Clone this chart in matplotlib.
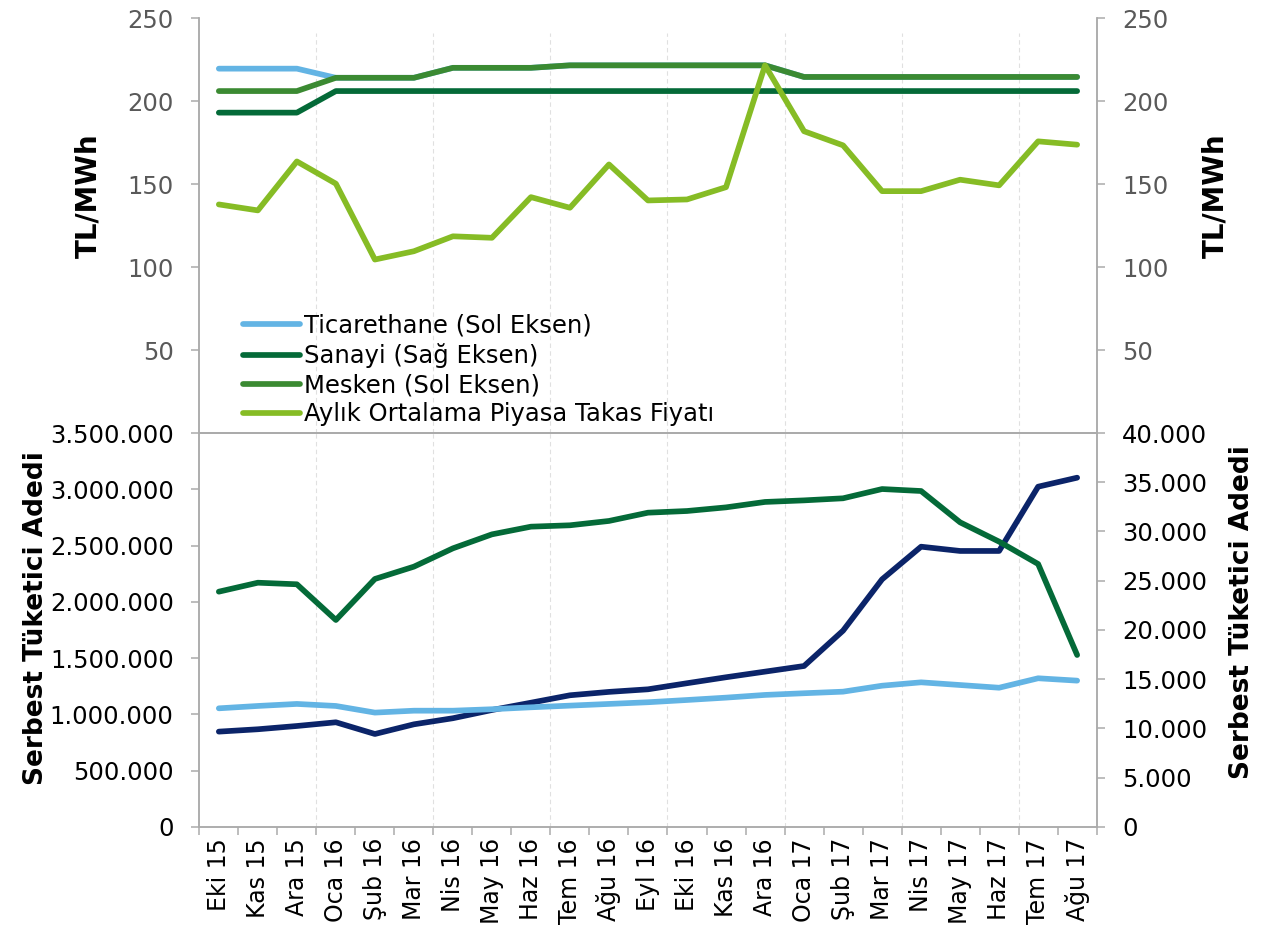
import matplotlib
matplotlib.use('Agg')
import matplotlib.pyplot as plt
from matplotlib.ticker import FuncFormatter, FixedLocator

aylar = ['Eki 15', 'Kas 15', 'Ara 15', 'Oca 16', 'Şub 16', 'Mar 16', 'Nis 16',
         'May 16', 'Haz 16', 'Tem 16', 'Ağu 16', 'Eyl 16', 'Eki 16', 'Kas 16',
         'Ara 16', 'Oca 17', 'Şub 17', 'Mar 17', 'Nis 17', 'May 17', 'Haz 17',
         'Tem 17', 'Ağu 17']

# ust panel - tarifeler TL/MWh
ticarethane = [219.5, 219.5, 219.5, 214, 214, 214, 220, 220, 220, 221.5, 221.5, 221.5,
               221.5, 221.5, 221.5, 214.5, 214.5, 214.5, 214.5, 214.5, 214.5, 214.5, 214.5]
sanayi = [193, 193, 193, 206, 206, 206, 206, 206, 206, 206, 206, 206,
          206, 206, 206, 206, 206, 206, 206, 206, 206, 206, 206]
mesken = [206, 206, 206, 214, 214, 214, 220, 220, 220, 221.5, 221.5, 221.5,
          221.5, 221.5, 221.5, 214.5, 214.5, 214.5, 214.5, 214.5, 214.5, 214.5, 214.5]
ptf = [137.7, 134.1, 163.6, 150.2, 104.5, 109.5, 118.5, 117.6, 142.1, 135.7, 161.8, 140.1,
       140.7, 148.1, 221.5, 181.8, 173.3, 145.7, 145.7, 152.6, 149.2, 175.7, 173.7]

# alt panel - serbest tuketici adedi
tic_adet = [1054000, 1075000, 1093000, 1075000, 1016000, 1033000, 1033000, 1046000,
            1063000, 1078000, 1093000, 1108000, 1128000, 1149000, 1173000, 1188000,
            1202000, 1255000, 1285000, 1261000, 1237000, 1321000, 1300000]
mesken_adet = [847000, 868000, 897000, 930000, 826000, 912000, 966000, 1039000,
               1104000, 1170000, 1200000, 1223000, 1277000, 1330000, 1380000, 1430000,
               1744000, 2200000, 2490000, 2452000, 2452000, 3023000, 3103000]
sanayi_adet = [23890, 24800, 24640, 21015, 25180, 26430, 28290, 29710, 30490, 30630,
               31070, 31910, 32080, 32450, 33000, 33160, 33370, 34310, 34110, 30930,
               28970, 26700, 17460]

c_tic = '#63b4e4'
c_san = '#046a38'
c_mes = '#3b8a32'
c_ptf = '#86bc25'
c_nav = '#0b2469'
c_spine = '#ababab'

plt.rcParams['font.family'] = ['DejaVu Sans']
lab_font = dict(family='DejaVu Sans', weight='bold')

x = list(range(len(aylar)))
lw = 4.1

fig = plt.figure(figsize=(12.64, 9.34), dpi=100)
ax1 = fig.add_axes([0.1577, 0.5364, 0.7099, 0.4443])
ax2 = fig.add_axes([0.1577, 0.1146, 0.7099, 0.4218])
ax1r = ax1.twinx()
ax2r = ax2.twinx()

# ust panel
l1, = ax1.plot(x, ticarethane, color=c_tic, lw=lw, solid_capstyle='round', label='Ticarethane (Sol Eksen)')
l3, = ax1.plot(x, mesken, color=c_mes, lw=lw, solid_capstyle='round', label='Mesken (Sol Eksen)')
l2, = ax1r.plot(x, sanayi, color=c_san, lw=lw, solid_capstyle='round', label='Sanayi (Sağ Eksen)')
l4, = ax1r.plot(x, ptf, color=c_ptf, lw=lw, solid_capstyle='round', label='Aylık Ortalama Piyasa Takas Fiyatı')

# alt panel
ax2.plot(x, mesken_adet, color=c_nav, lw=lw, solid_capstyle='round')
ax2.plot(x, tic_adet, color=c_tic, lw=lw, solid_capstyle='round')
ax2r.plot(x, sanayi_adet, color=c_san, lw=lw, solid_capstyle='round')

grid_x = [2.5, 5.5, 8.5, 11.5, 14.5, 17.5, 20.5]
for a in (ax1, ax2):
    a.set_xlim(-0.5, len(aylar) - 0.5)
for g in grid_x:
    ax1.axvline(g, ymax=0.963, color='#e0e0e0', lw=0.8, ls=(0, (4, 3)), zorder=0)
    ax2.axvline(g, color='#e0e0e0', lw=0.8, ls=(0, (4, 3)), zorder=0)

for a in (ax1, ax1r):
    a.set_ylim(0, 250)
    a.set_yticks([50, 100, 150, 200, 250])
    a.tick_params(axis='y', labelsize=17.5, labelcolor='#595959', color=c_spine,
                  length=5.5, width=1.1, pad=13)
ax1.tick_params(axis='x', bottom=False, labelbottom=False)
ax1r.tick_params(axis='x', bottom=False, labelbottom=False)

ax2.set_ylim(0, 3500000)
ax2.set_yticks(range(0, 3500001, 500000))
ax2r.set_ylim(0, 40000)
ax2r.set_yticks(range(0, 40001, 5000))
fmt = FuncFormatter(lambda v, p: f'{int(v):,}'.replace(',', '.'))
ax2.yaxis.set_major_formatter(fmt)
ax2r.yaxis.set_major_formatter(fmt)
for a in (ax2, ax2r):
    a.tick_params(axis='y', labelsize=17.5, labelcolor='black', color=c_spine,
                  length=5.5, width=1.1, pad=13)

ax2.xaxis.set_major_locator(FixedLocator([i - 0.5 for i in range(len(aylar) + 1)]))
ax2.xaxis.set_minor_locator(FixedLocator(x))
ax2.set_xticklabels([], minor=False)
ax2.set_xticklabels(aylar, minor=True, rotation=90)
ax2.tick_params(axis='x', which='major', length=6, width=1.1, color=c_spine)
ax2.tick_params(axis='x', which='minor', length=0, labelsize=17, pad=8)

for a in (ax1, ax1r, ax2, ax2r):
    for s in a.spines.values():
        s.set_color(c_spine)
        s.set_linewidth(1.1)
ax1.spines['top'].set_visible(False)
ax1r.spines['top'].set_visible(False)

ax1.set_ylabel('TL/MWh', size=20, **lab_font)
ax1.yaxis.set_label_coords(-0.1075, 0.573)
ax1r.set_ylabel('TL/MWh', rotation=90, size=20, **lab_font)
ax1r.yaxis.set_label_coords(1.117, 0.573)
ax2.set_ylabel('Serbest Tüketici Adedi', size=19, **lab_font)
ax2.yaxis.set_label_coords(-0.168, 0.53)
ax2r.set_ylabel('Serbest Tüketici Adedi', rotation=90, size=19, **lab_font)
ax2r.yaxis.set_label_coords(1.1475, 0.545)

ax1r.legend(handles=[l1, l2, l3, l4], loc='upper left', bbox_to_anchor=(0.0487, 0.287),
            frameon=False, fontsize=17.5, handlelength=2.35, handletextpad=0.15,
            labelspacing=0.21, borderpad=0, borderaxespad=0)

fig.savefig('out.png', dpi=100)
